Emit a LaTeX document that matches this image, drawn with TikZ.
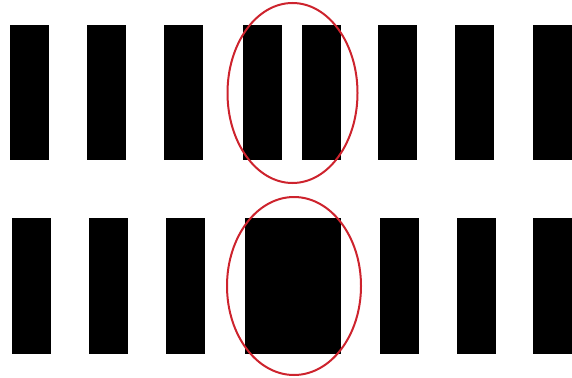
\documentclass[tikz,border=0pt]{standalone}
\usepackage{tikz}
\usepackage{xcolor}
\definecolor{ringred}{RGB}{205,35,45}

\begin{document}
\begin{tikzpicture}[x=1pt, y=-1pt]
    \useasboundingbox (0,0) rectangle (572,377);
    % top row of bars
    \foreach \xl in {10, 87, 164, 243, 302, 378, 455, 533}
        \fill[black] (\xl,25) rectangle ++(39,135);
    % bottom row, two middle bars merged
    \foreach \xl in {12, 89, 166, 380, 457, 533}
        \fill[black] (\xl,218) rectangle ++(39,136);
    \fill[black] (245,218) rectangle (341,354);
    % red rings
    \draw[ringred, line width=2pt] (292.5,93) ellipse [x radius=65, y radius=90];
    \draw[ringred, line width=2pt] (294,286) ellipse [x radius=67, y radius=89];
\end{tikzpicture}
\end{document}
